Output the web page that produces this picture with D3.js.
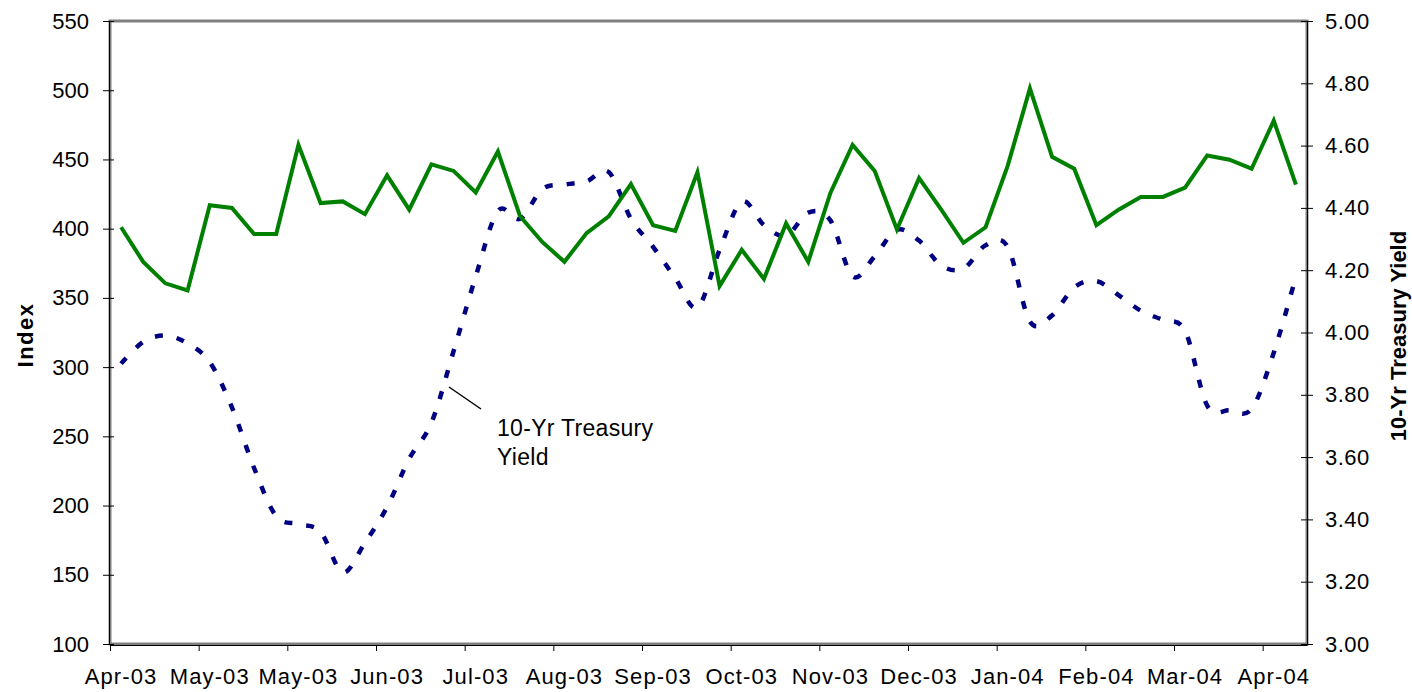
<!DOCTYPE html>
<html>
<head>
<meta charset="utf-8">
<script src="https://cdn.jsdelivr.net/npm/d3@7"></script>
<style>
  html, body { margin: 0; padding: 0; background: #fff; }
  svg { display: block; font-family: "Liberation Sans", Arial, sans-serif; }
</style>
</head>
<body>
<svg id="chart" width="1412" height="692"></svg>
<script>
// weekly index values (left axis)
const indexValues = [
  401, 376, 360.5, 355.4, 416.9, 415, 396.2, 396.2, 460.5, 418.5,
  419.7, 410.5, 438.5, 413.7, 446.5, 441.7, 426.1, 455.7, 408.9, 390.4,
  376.1, 396.8, 408.9, 432.2, 402.5, 398.4, 440.8, 358.6, 384.7, 363.7,
  403.8, 376.1, 425.8, 460.5, 441.7, 399.4, 436.6, 413.7, 389.8, 401,
  445.5, 501.3, 451.9, 443.3, 402.5, 413.7, 422.9, 422.9, 429.6, 452.9,
  449.8, 443.3, 478, 431.8
]

// 10-yr treasury yield (right axis)
const yieldValues = [
  3.90, 3.97, 3.99, 3.965, 3.905, 3.76, 3.565, 3.41, 3.385, 3.36,
  3.23, 3.325, 3.44, 3.595, 3.71, 3.94, 4.18, 4.39, 4.365, 4.46,
  4.475, 4.485, 4.515, 4.365, 4.275, 4.175, 4.08, 4.265, 4.42, 4.345,
  4.31, 4.385, 4.36, 4.18, 4.245, 4.33, 4.295, 4.215, 4.205, 4.28,
  4.275, 4.035, 4.055, 4.145, 4.165, 4.12, 4.07, 4.04, 4.005, 3.765,
  3.75, 3.755, 3.935, 4.18
]

// one label every 4 weeks
const monthLabels = [
  "Apr-03", "May-03", "May-03", "Jun-03", "Jul-03", "Aug-03", "Sep-03",
  "Oct-03", "Nov-03", "Dec-03", "Jan-04", "Feb-04", "Mar-04", "Apr-04"
]
const leftTicks = [100, 150, 200, 250, 300, 350, 400, 450, 500, 550]
const rightTicks = [3.0, 3.2, 3.4, 3.6, 3.8, 4.0, 4.2, 4.4, 4.6, 4.8, 5.0]

const svg = d3.select("#chart")
const margin = { top: 21, right: 105, bottom: 48, left: 110 }
const width = 1412
const height = 692
const plotL = margin.left, plotR = width - margin.right
const plotT = margin.top, plotB = height - margin.bottom

const x = d3.scaleLinear().domain([0, indexValues.length]).range([plotL, plotR])
const yL = d3.scaleLinear().domain([100, 550]).range([plotB, plotT])
const yR = d3.scaleLinear().domain([3, 5]).range([plotB, plotT])

// plot frame
svg.append("rect")
  .attr("x", plotL).attr("y", plotT)
  .attr("width", plotR - plotL).attr("height", plotB - plotT)
  .attr("fill", "none").attr("stroke", "#808080").attr("stroke-width", 3)

// left axis
const gL = svg.append("g")
  .attr("transform", `translate(${plotL - 1},0)`)
  .call(d3.axisLeft(yL).tickValues(leftTicks).tickSizeInner(6).tickSizeOuter(0).tickPadding(14))
gL.selectAll(".tick line").attr("x1", 5)
gL.selectAll("text").style("font-size", "22px").attr("fill", "#000")

// right axis
const gR = svg.append("g")
  .attr("transform", `translate(${plotR},0)`)
  .call(d3.axisRight(yR).tickValues(rightTicks).tickFormat(d3.format(".2f")).tickSizeInner(6).tickSizeOuter(0).tickPadding(12))
gR.selectAll(".tick line").attr("x1", -6)
gR.selectAll("text").style("font-size", "22px").style("letter-spacing", "0.5px").attr("fill", "#000")

// bottom axis: tick marks between weeks, labels at week centres
const tickIdx = d3.range(0, indexValues.length, 4)
const gB = svg.append("g")
  .attr("transform", `translate(0,${plotB + 1})`)
  .call(d3.axisBottom(x).tickValues(tickIdx).tickFormat("").tickSizeInner(6).tickSizeOuter(0))

svg.append("g").selectAll("text")
  .data(monthLabels)
  .join("text")
  .attr("x", (d, i) => x(tickIdx[i] + 0.5))
  .attr("y", 684)
  .attr("text-anchor", "middle")
  .style("font-size", "22px")
  .style("letter-spacing", "1.1px")
  .text(d => d)

svg.selectAll(".domain").attr("stroke", "#000").attr("stroke-width", 1)
svg.selectAll(".tick line").attr("stroke", "#000")

// axis titles
svg.append("text")
  .attr("transform", "translate(33,335) rotate(-90)")
  .attr("text-anchor", "middle")
  .style("font-size", "22px").style("font-weight", "bold").style("letter-spacing", "1.5px")
  .text("Index")

svg.append("text")
  .attr("transform", "translate(1406,336) rotate(-90)")
  .attr("text-anchor", "middle")
  .style("font-size", "22px").style("font-weight", "bold")
  .text("10-Yr Treasury Yield")

// yield line (smoothed, dashed)
const yieldLine = d3.line()
  .x((d, i) => x(i + 0.5))
  .y(d => yR(d))
  .curve(d3.curveCatmullRom.alpha(0))

svg.append("path")
  .datum(yieldValues)
  .attr("fill", "none")
  .attr("stroke", "#000080")
  .attr("stroke-width", 4.5)
  .attr("stroke-dasharray", "8 14")
  .attr("d", yieldLine)

// index line
const indexLine = d3.line()
  .x((d, i) => x(i + 0.5))
  .y(d => yL(d))

svg.append("path")
  .datum(indexValues)
  .attr("fill", "none")
  .attr("stroke", "#008000")
  .attr("stroke-width", 4)
  .attr("stroke-linejoin", "miter")
  .attr("d", indexLine)

// annotation
svg.append("line")
  .attr("x1", 449).attr("y1", 387).attr("x2", 481).attr("y2", 409)
  .attr("stroke", "#000").attr("stroke-width", 1.5)

const note = svg.append("text")
  .style("font-size", "23px")
  .style("letter-spacing", "0.3px")
note.append("tspan").attr("x", 497).attr("y", 436).text("10-Yr Treasury")
note.append("tspan").attr("x", 497).attr("y", 465).text("Yield")
</script>
</body>
</html>
